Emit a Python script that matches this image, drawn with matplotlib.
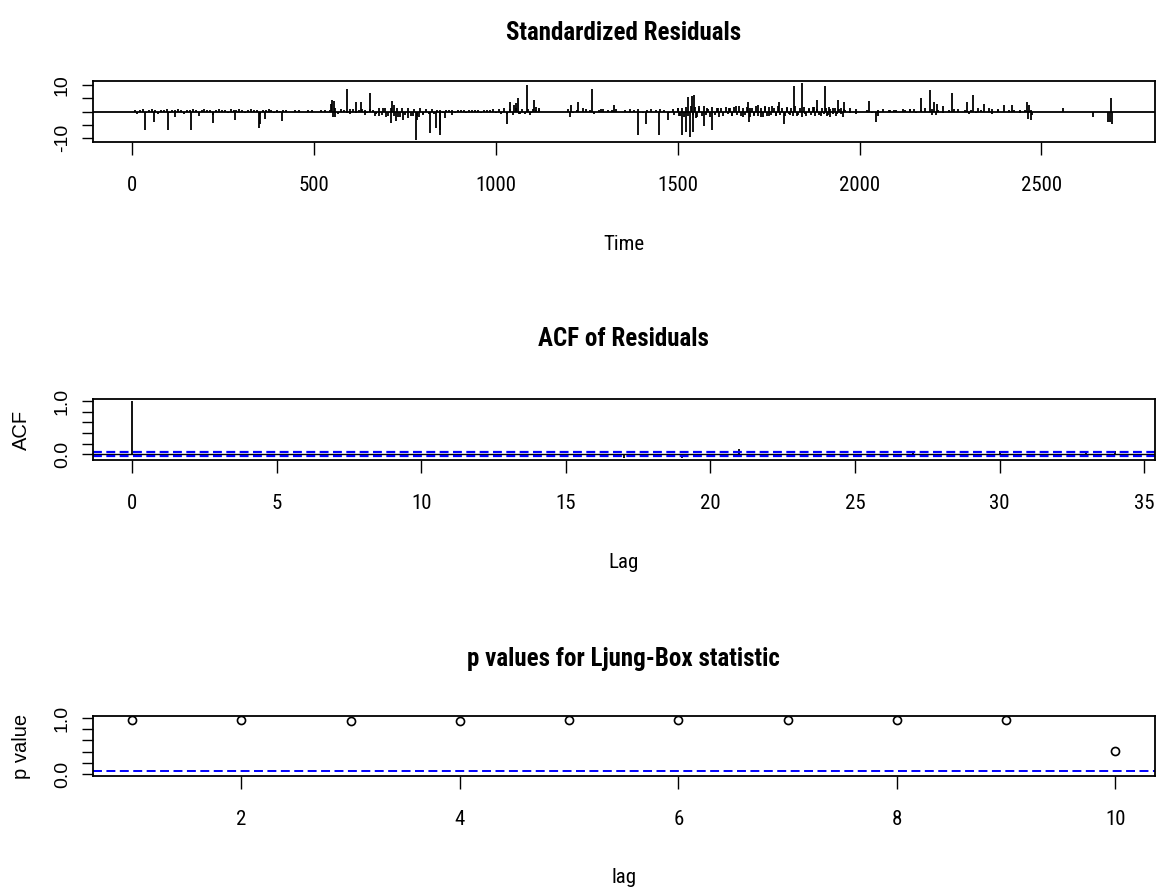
import numpy as np
import matplotlib
matplotlib.use("Agg")
import matplotlib.pyplot as plt
from matplotlib import font_manager as fm

W, H, DPI = 1157, 888, 100

# standardized residuals: the visible spikes as (time, value)
spike_t = [37, 60, 100, 119, 164, 185, 224, 284, 349, 352, 365, 412,
           548, 550, 553, 556, 560, 592, 600, 616, 629, 640, 655, 668, 680, 690,
           700, 713, 716, 720, 725, 732, 745, 760, 772, 780, 785, 790, 800,
           820, 836, 846, 848, 860, 880,
           1031, 1040, 1050, 1055, 1062, 1066, 1086, 1095, 1105, 1110, 1118,
           1204, 1206, 1227, 1240, 1264, 1270, 1290, 1326,
           1392, 1413, 1450, 1473, 1490, 1500, 1505, 1513, 1523, 1530, 1534,
           1540, 1542, 1546, 1550, 1560, 1573, 1580, 1595, 1610, 1640, 1650,
           1660, 1680, 1693, 1695, 1700, 1710, 1720, 1728, 1740, 1750, 1760,
           1770, 1779, 1793, 1800, 1810, 1819, 1828, 1843, 1850, 1862, 1875,
           1884, 1895, 1906, 1910, 1915, 1920, 1928, 1935, 1941, 1948, 1955,
           1958, 1975, 1990, 2025, 2046, 2052, 2065, 2085, 2100, 2120, 2140,
           2150, 2170, 2180, 2195, 2200, 2205, 2210, 2213, 2230, 2254, 2270,
           2294, 2300, 2312, 2325, 2343, 2355, 2365, 2380, 2397, 2418, 2440,
           2459, 2463, 2467, 2470, 2475, 2559, 2641, 2683, 2689, 2691, 2693]
spike_v = [-7.1, -4.0, -7.1, -2.1, -7.1, -1.8, -4.4, -3.1, -6.2, -4.8, -2.7, -3.7,
           3.0, 4.4, -2.0, 3.8, -1.9, 8.4, -1.0, 3.4, 3.4, -1.2, 6.9, -1.5, -1.8, 1.4,
           -2.2, -4.4, 4.1, 2.5, -3.5, -2.0, -3.0, -2.5, -1.5, -10.7, -3.0, -2.2, -1.0,
           -7.9, -6.2, -8.75, -7.0, -2.5, -1.2,
           -4.6, 3.4, 2.5, 3.2, 5.0, -1.0, 10.0, -1.2, 4.4, 1.8, 1.2,
           -2.1, 2.5, 3.4, 1.2, 8.4, -1.0, 0.8, 2.5,
           -8.75, -4.6, -8.75, -3.1, -1.3, 1.2, -1.5, -8.75, -7.5, 5.6, -9.6,
           5.9, -7.5, 6.3, -2.5, 2.2, -5.6, 1.5, -7.1, 1.2, 1.5, -1.8,
           2.0, -2.2, 3.4, -3.8, 1.5, -1.5, 2.5, -2.0, 2.0, -1.8, 2.2,
           -1.5, 3.4, -4.6, 1.5, -1.2, 9.4, -1.5, 10.6, -1.0, 1.0, 1.8,
           4.4, -1.5, 9.4, -1.5, 1.8, -2.0, 1.5, -1.8, 4.4, 1.5, -2.1,
           3.4, 1.2, -1.0, 4.1, -4.1, -1.5, 0.8, 0.7, 0.7, 0.8, 0.8,
           1.0, 5.0, 1.5, 7.9, -1.3, 3.4, -1.2, 3.0, 2.25, 7.0, 1.0,
           3.6, -0.8, 6.1, 1.2, 2.9, 1.2, -1.1, 0.8, 2.6, 2.6, 0.6,
           3.5, -2.9, 2.5, -3.0, -1.2, 1.2, -2.1, -3.75, -4.0, 5.0, -4.5]

# low-level chatter, one list per stretch: (start time, step, values)
chatter_a = (8, 8, [0.6, -0.8, 0.7, 0.8, -0.5, 0.6, 0.9, 0.5, -1.0, 0.7, 0.6, 0.8,
                    -0.4, 0.7, 0.5, 0.8, 0.6, -0.9, 0.7, 0.4, 0.8, 0.6, -0.6, 0.7,
                    0.9, 0.5, 0.6, -1.2, 0.7, 0.8, 0.5, 0.6, -0.5, 0.8, 0.7, 0.4,
                    0.9, 0.6, -0.7, 0.5, 0.8, 0.6, 0.7, -1.1, 0.5, 0.6, 0.8, 0.4,
                    -0.6, 0.5, 0.3, 0.6])
chatter_b = (424, 12, [0.5, 0.0, 0.6, 0.5, 0.0, 0.4, 0.6, 0.0, 0.5, 0.6, 0.4])
chatter_c = (560, 8, [1.2, -0.8, 1.0, 0.6, -0.5, 0.8, 1.1, -0.7, 0.6, 0.9, 0.5, -0.6,
                      1.0, 0.7, -1.0, 1.2, -1.3, 1.5, -1.8, 1.4, -1.6, 1.3, -1.9, 1.5,
                      -1.4, 1.2, -1.7, 1.0, -1.5, 1.3, -1.2, 0.9, -0.8, 0.8, -1.0, 0.7,
                      0.6, -0.6, 0.7, 0.6, 0.5, -0.4, 0.7, 0.6, 0.5, -0.5, 0.6, 0.7,
                      0.5, 0.6, -0.4, 0.6, 0.7, 0.5, 0.8, -0.6, 0.9, -1.0, 1.2, -0.9,
                      1.1, -1.2, 1.4, -0.8, 1.0, -0.9, 0.8, -0.7, 0.9, 0.6, 0.5])
chatter_d = (1200, 12, [0.9, -0.6, 0.7, 0.0, 0.8, 0.6, 0.0, 0.5, 0.9, 0.7, 0.6, 0.8,
                        0.0, 0.7, 0.9, 0.6, 0.8, -0.5, 0.7, 0.9, 0.6, 0.8, 0.7, -0.6, 0.9])
chatter_e = (1500, 6, [1.5, -1.8, 1.2, -2.0, 1.8, -1.5, 2.0, -1.2, 1.6, -2.2,
                       1.3, -1.7, 1.9, -1.4, 1.1, -1.9, 1.7, -1.3, 1.5, -2.1,
                       1.2, -1.6, 1.8, -1.1, 1.4, -1.8, 1.6, -1.4, 2.1, -1.7,
                       1.3, -1.2, 1.7, -1.9, 1.5, -1.3, 1.9, -1.6, 1.2, -2.0,
                       1.6, -1.5, 1.8, -1.2, 1.4, -1.7, 2.0, -1.4, 1.3, -1.8,
                       1.7, -1.1, 1.5, -1.6, 1.9, -1.3, 1.2, -1.9, 1.6, -1.5,
                       1.4, -1.2, 1.8, -1.7, 1.1, -1.4, 1.5, -1.0, 1.3, -1.2,
                       1.0, -0.9, 1.2, -1.1, 0.9, -0.8, 1.0])
chatter_f = (1960, 15, [0.6, -0.5, 0.8, 0.0, 0.7, -0.6, 0.5, 0.0, 0.6, 0.7, 0.0, 0.5,
                        0.8, -0.4, 0.6, 0.0, 0.9, 0.5, -0.7, 0.6, 0.8, 0.0, 0.7, 0.5,
                        -0.5, 0.6, 0.0, 0.8, 0.6, 0.0, 0.7, 0.5, -0.4, 0.6, 0.5])
n_obs = 2703

# ACF of residuals, lags 0..34
acf_lag = list(range(35))
acf_val = [1.0, 0.01, -0.01, 0.01, 0.0, 0.01, -0.01, 0.0, 0.01, -0.01, 0.01, 0.0,
           0.01, -0.06, 0.0, 0.01, -0.01, -0.07, 0.0, -0.07, 0.01, 0.1, 0.0, 0.01,
           -0.01, 0.0, 0.01, 0.07, 0.0, -0.01, 0.07, 0.0, 0.01, 0.07, 0.07]

# Ljung-Box p values
lb_lag = list(range(1, 11))
lb_pval = [0.96, 0.96, 0.95, 0.95, 0.96, 0.96, 0.96, 0.96, 0.96, 0.41]

BLUE = '#0000ff'

# pick a narrow sans for horizontal text, plain sans for rotated text
_fonts = fm.fontManager.ttflist
_names = {f.name for f in _fonts}


def pick_narrow():
    for name in ['Liberation Sans Narrow', 'Arial Narrow', 'Nimbus Sans Narrow',
                 'Roboto Condensed', 'Noto Sans Condensed', 'Open Sans Condensed',
                 'DejaVu Sans Condensed']:
        if name in _names:
            return dict(fontfamily=name)
    for name in ['Liberation Sans', 'Noto Sans', 'Roboto', 'Open Sans', 'DejaVu Sans']:
        if any(f.name == name and 'condensed' in str(f.stretch) for f in _fonts):
            return dict(fontfamily=name, fontstretch='condensed')
    return dict(fontfamily='Liberation Sans')


NARROW = pick_narrow()
REG = dict(fontfamily='Liberation Sans' if 'Liberation Sans' in _names else 'DejaVu Sans')


def r_range(lo, hi):
    ext = 0.04 * (hi - lo)
    return lo - ext, hi + ext


fig = plt.figure(figsize=(W / DPI, H / DPI), dpi=DPI)


def px_axes(x0, y0, x1, y1):
    return fig.add_axes([x0 / W, 1 - y1 / H, (x1 - x0) / W, (y1 - y0) / H])


def ftext(x, y, s, **kw):
    fig.text(x / W, 1 - y / H, s, **kw)


def style(ax, xticks, yticks, ylabels):
    for sp in ax.spines.values():
        sp.set_linewidth(1.3)
        sp.set_color('black')
    ax.set_xticks(xticks)
    ax.set_xticklabels([str(x) for x in xticks], fontsize=15, **NARROW)
    ax.set_yticks(yticks)
    ax.set_yticklabels(ylabels, fontsize=14, rotation=90, va='center', ha='center', **REG)
    ax.tick_params(axis='x', length=9.4, width=1.0, pad=15)
    ax.tick_params(axis='y', length=7.9, width=1.0, pad=14)


box_l, box_r = 92.7, 1154.7
mid_x = (box_l + box_r) / 2

# standardized residuals
ax1 = px_axes(box_l, 81, box_r, 142.3)
t_all, v_all = list(spike_t), list(spike_v)
for start, step, vals in (chatter_a, chatter_b, chatter_c, chatter_d, chatter_e, chatter_f):
    t_all += list(start + step * np.arange(len(vals)))
    v_all += vals
ax1.vlines(t_all, 0, v_all, color='black', lw=1.3)
ax1.axhline(0, color='black', lw=1.3)
ax1.set_xlim(*r_range(1, n_obs))
ax1.set_ylim(*r_range(min(v_all), max(v_all)))
style(ax1, [0, 500, 1000, 1500, 2000, 2500], [-10, -5, 0, 5, 10],
      ['-10', '', '', '', '10'])
ftext(mid_x, 31 + 9, 'Standardized Residuals', ha='center', va='baseline',
      fontsize=18, fontweight='bold', **NARROW)
ftext(mid_x, 242 + 7.5, 'Time', ha='center', va='baseline', fontsize=15, **NARROW)

# ACF of residuals
clim = 1.96 / np.sqrt(n_obs)
ax2 = px_axes(box_l, 399, box_r, 460.3)
ax2.vlines(acf_lag, 0, acf_val, color='black', lw=1.3)
ax2.axhline(0, color='black', lw=1.0)
for c in (clim, -clim):
    ax2.axhline(c, color=BLUE, lw=1.6, ls=(0, (4.0, 2.0)))
ax2.set_xlim(*r_range(0, max(acf_lag)))
ax2.set_ylim(*r_range(min(acf_val + [-clim]), max(acf_val + [clim])))
style(ax2, [0, 5, 10, 15, 20, 25, 30, 35], [0, 0.2, 0.4, 0.6, 0.8, 1.0],
      ['0.0', '', '', '', '', '1.0'])
ftext(mid_x, 337 + 9, 'ACF of Residuals', ha='center', va='baseline',
      fontsize=18, fontweight='bold', **NARROW)
ftext(mid_x, 560 + 7.5, 'Lag', ha='center', va='baseline', fontsize=15, **NARROW)
ftext(21.7, 429.6, 'ACF', ha='center', va='center', rotation=90, fontsize=14.5, **REG)

# Ljung-Box p values
ax3 = px_axes(box_l, 715.7, box_r, 776.3)
ax3.plot(lb_lag, lb_pval, 'o', mfc='none', mec='black', ms=5.8, mew=1.2)
ax3.axhline(0.05, color=BLUE, lw=1.4, ls=(0, (4.6, 2.3)))
ax3.set_xlim(*r_range(1, 10))
ax3.set_ylim(*r_range(0, 1))
style(ax3, [2, 4, 6, 8, 10], [0, 0.2, 0.4, 0.6, 0.8, 1.0],
      ['0.0', '', '', '', '', '1.0'])
ftext(mid_x, 657 + 9, 'p values for Ljung-Box statistic', ha='center', va='baseline',
      fontsize=18, fontweight='bold', **NARROW)
ftext(mid_x, 875 + 7.5, 'lag', ha='center', va='baseline', fontsize=15, **NARROW)
ftext(21.7, 746, 'p value', ha='center', va='center', rotation=90, fontsize=14.5, **REG)

fig.savefig('out.png', dpi=DPI)
